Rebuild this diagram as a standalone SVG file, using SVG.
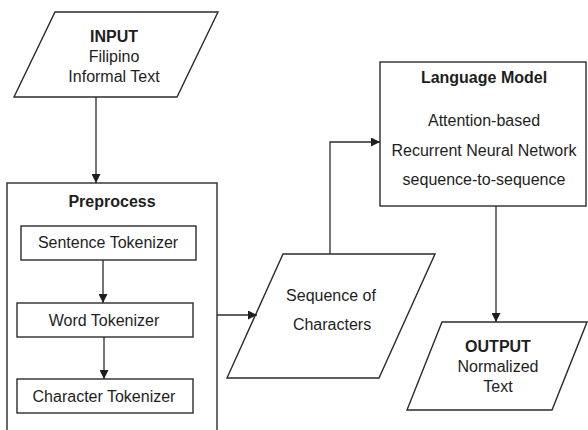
<svg xmlns="http://www.w3.org/2000/svg" width="588" height="430" viewBox="0 0 588 430">
  <style>
    .shape { fill: #ffffff; stroke: #2b2b2b; stroke-width: 1.4; }
    .wire { fill: none; stroke: #2b2b2b; stroke-width: 1.3; }
    text { font-family: "Liberation Sans", Arial, sans-serif; font-size: 16px; fill: #1e1e1e; text-anchor: middle; }
    .title { font-weight: bold; }
  </style>
  <defs>
    <marker id="arrow" viewBox="0 0 10 10" refX="10" refY="5" markerWidth="9" markerHeight="9" markerUnits="userSpaceOnUse" orient="auto">
      <path d="M0,0 L10,5 L0,10 Z" fill="#1e1e1e"/>
    </marker>
  </defs>
  <rect width="588" height="430" fill="#ffffff"/>

  <g id="input">
    <polygon class="shape" points="55,12 218,12 177,97 14,97"/>
    <text class="title" x="114" y="42">INPUT</text>
    <text x="114" y="62">Filipino</text>
    <text x="114" y="82">Informal Text</text>
  </g>

  <g id="preprocess">
    <rect class="shape" x="7" y="183" width="210" height="260"/>
    <text class="title" x="112" y="207">Preprocess</text>
  </g>

  <g id="sentence-tokenizer">
    <rect class="shape" x="21" y="226" width="175" height="34"/>
    <text x="108" y="248">Sentence Tokenizer</text>
  </g>

  <g id="word-tokenizer">
    <rect class="shape" x="17" y="303" width="176" height="34"/>
    <text x="104" y="326">Word Tokenizer</text>
  </g>

  <g id="character-tokenizer">
    <rect class="shape" x="17" y="379" width="176" height="34"/>
    <text x="104" y="402">Character Tokenizer</text>
  </g>

  <g id="sequence-of-characters">
    <polygon class="shape" points="283,254 435,254 379,378 227,378"/>
    <text x="331" y="301">Sequence of</text>
    <text x="332" y="330">Characters</text>
  </g>

  <g id="language-model">
    <rect class="shape" x="380" y="62" width="206" height="144"/>
    <text class="title" x="484" y="83">Language Model</text>
    <text x="484" y="126">Attention-based</text>
    <text x="484" y="156">Recurrent Neural Network</text>
    <text x="484" y="185">sequence-to-sequence</text>
  </g>

  <g id="output">
    <polygon class="shape" points="442,322 587,322 552,410 407,410"/>
    <text class="title" x="498" y="352">OUTPUT</text>
    <text x="498" y="372">Normalized</text>
    <text x="498" y="392">Text</text>
  </g>

  <g id="connectors">
    <line class="wire" x1="96" y1="97" x2="96" y2="183" marker-end="url(#arrow)"/>
    <line class="wire" x1="103" y1="260" x2="103" y2="303" marker-end="url(#arrow)"/>
    <line class="wire" x1="104" y1="337" x2="104" y2="379" marker-end="url(#arrow)"/>
    <line class="wire" x1="217" y1="315" x2="257" y2="315" marker-end="url(#arrow)"/>
    <polyline class="wire" points="330,254 330,142 380,142" marker-end="url(#arrow)"/>
    <line class="wire" x1="496" y1="206" x2="496" y2="322" marker-end="url(#arrow)"/>
  </g>
</svg>
